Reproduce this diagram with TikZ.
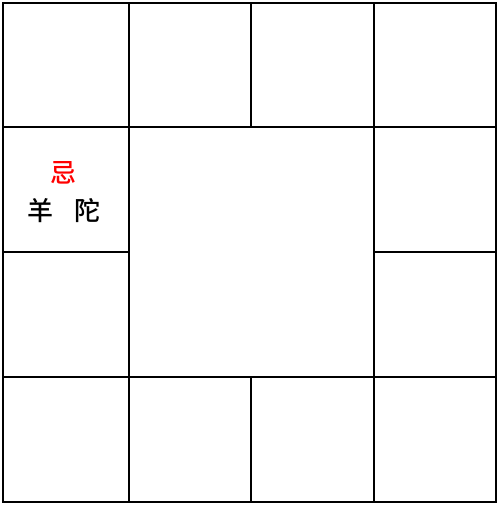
\documentclass[tikz,border=0pt]{standalone}
\usepackage{fontspec}
\newfontfamily\cjk{Noto Sans CJK SC Medium}
\begin{document}
\begin{tikzpicture}[x=1pt,y=-1pt,
  cellline/.style={draw=black,line width=1.4pt},
  glyph/.style={font=\cjk\fontsize{26}{26}\selectfont,inner sep=0pt}]
\useasboundingbox (0,0) rectangle (499,506);
% top row
\draw[cellline] (3,3) rectangle (129,127);
\draw[cellline] (129,3) rectangle (251,127);
\draw[cellline] (251,3) rectangle (374,127);
\draw[cellline] (374,3) rectangle (496,127);
% middle rows
\draw[cellline] (3,127) rectangle (129,252);
\draw[cellline] (374,127) rectangle (496,252);
\draw[cellline] (3,252) rectangle (129,377);
\draw[cellline] (374,252) rectangle (496,377);
\draw[cellline] (129,127) rectangle (374,377);
% bottom row
\draw[cellline] (3,377) rectangle (129,502);
\draw[cellline] (129,377) rectangle (251,502);
\draw[cellline] (251,377) rectangle (374,502);
\draw[cellline] (374,377) rectangle (496,502);
% texts
\node[glyph,text=red] (ji) at (63.5,172.5) {忌};
\node[glyph] (yang) at (40.5,211) {羊};
\node[glyph] (tuo) at (87,211) {陀};
\end{tikzpicture}
\end{document}
